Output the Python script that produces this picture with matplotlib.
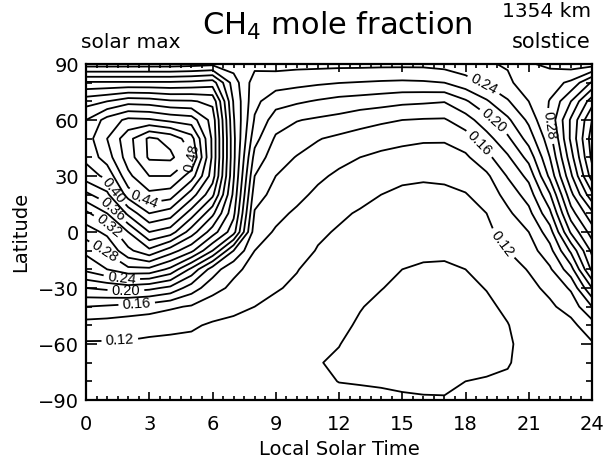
import numpy as np
import matplotlib
matplotlib.use("Agg")
import matplotlib.pyplot as plt
from matplotlib.ticker import MultipleLocator

plt.rcParams['font.family'] = ['DejaVu Sans']
plt.rcParams['mathtext.default'] = 'regular'

# grid: local solar time (h) and latitude (deg)
local_time = np.arange(0, 25, 1)
latitude = np.arange(-90, 91, 10)

# CH4 mole fraction, one column per local time, values from -90 to 90 lat
ch4_t00 = [0.106, 0.110, 0.114, 0.118, 0.131, 0.160, 0.200, 0.245, 0.265, 0.290, 0.315, 0.355, 0.390, 0.405, 0.410, 0.400, 0.372, 0.323, 0.250]
ch4_t01 = [0.107, 0.110, 0.114, 0.118, 0.130, 0.157, 0.205, 0.260, 0.283, 0.305, 0.340, 0.375, 0.405, 0.430, 0.440, 0.428, 0.380, 0.323, 0.250]
ch4_t02 = [0.107, 0.110, 0.114, 0.118, 0.128, 0.153, 0.210, 0.275, 0.315, 0.340, 0.385, 0.430, 0.455, 0.470, 0.473, 0.445, 0.392, 0.323, 0.250]
ch4_t03 = [0.108, 0.111, 0.114, 0.117, 0.125, 0.150, 0.205, 0.275, 0.335, 0.380, 0.420, 0.455, 0.480, 0.503, 0.504, 0.443, 0.390, 0.323, 0.250]
ch4_t04 = [0.108, 0.111, 0.114, 0.116, 0.124, 0.143, 0.195, 0.255, 0.310, 0.370, 0.410, 0.450, 0.480, 0.504, 0.494, 0.435, 0.383, 0.323, 0.250]
ch4_t05 = [0.108, 0.110, 0.113, 0.116, 0.122, 0.138, 0.170, 0.215, 0.285, 0.330, 0.370, 0.410, 0.450, 0.482, 0.468, 0.430, 0.382, 0.325, 0.252]
ch4_t06 = [0.107, 0.109, 0.112, 0.115, 0.118, 0.128, 0.148, 0.170, 0.240, 0.290, 0.325, 0.365, 0.390, 0.396, 0.396, 0.392, 0.375, 0.330, 0.255]
ch4_t07 = [0.107, 0.109, 0.111, 0.114, 0.117, 0.123, 0.135, 0.145, 0.180, 0.248, 0.265, 0.275, 0.282, 0.285, 0.285, 0.282, 0.278, 0.270, 0.250]
ch4_t08 = [0.106, 0.108, 0.110, 0.113, 0.116, 0.120, 0.127, 0.133, 0.140, 0.149, 0.158, 0.169, 0.180, 0.193, 0.207, 0.218, 0.225, 0.230, 0.246]
ch4_t09 = [0.106, 0.107, 0.109, 0.111, 0.114, 0.117, 0.121, 0.126, 0.131, 0.138, 0.145, 0.153, 0.160, 0.168, 0.177, 0.190, 0.208, 0.229, 0.247]
ch4_t10 = [0.105, 0.105, 0.106, 0.108, 0.111, 0.114, 0.118, 0.1205, 0.126, 0.132, 0.137, 0.145, 0.152, 0.159, 0.169, 0.181, 0.203, 0.226, 0.246]
ch4_t11 = [0.104, 0.102, 0.1005, 0.102, 0.105, 0.109, 0.112, 0.116, 0.119, 0.1225, 0.128, 0.136, 0.1435, 0.153, 0.161, 0.177, 0.198, 0.223, 0.246]
ch4_t12 = [0.103, 0.0998, 0.0985, 0.1003, 0.1035, 0.107, 0.110, 0.1135, 0.1165, 0.1185, 0.1225, 0.1295, 0.1365, 0.1455, 0.156, 0.1735, 0.1935, 0.2205, 0.2455]
ch4_t13 = [0.102, 0.0995, 0.097, 0.0965, 0.098, 0.1008, 0.1045, 0.108, 0.1115, 0.115, 0.1185, 0.1245, 0.1315, 0.140, 0.1525, 0.167, 0.191, 0.219, 0.2455]
ch4_t14 = [0.1015, 0.0992, 0.0955, 0.093, 0.0935, 0.0965, 0.1005, 0.1045, 0.1085, 0.112, 0.116, 0.120, 0.1265, 0.136, 0.1475, 0.1635, 0.188, 0.2175, 0.245]
ch4_t15 = [0.1015, 0.098, 0.0945, 0.0915, 0.091, 0.093, 0.0965, 0.100, 0.1045, 0.109, 0.1135, 0.1175, 0.1225, 0.1335, 0.1445, 0.160, 0.1845, 0.2165, 0.245]
ch4_t16 = [0.101, 0.0975, 0.094, 0.091, 0.0903, 0.092, 0.095, 0.0985, 0.1025, 0.1075, 0.1125, 0.117, 0.1215, 0.130, 0.143, 0.1585, 0.183, 0.2175, 0.245]
ch4_t17 = [0.101, 0.097, 0.0935, 0.0905, 0.0898, 0.0915, 0.0945, 0.098, 0.1025, 0.1075, 0.1125, 0.117, 0.1225, 0.131, 0.1425, 0.158, 0.181, 0.220, 0.248]
ch4_t18 = [0.1015, 0.100, 0.0965, 0.0935, 0.0925, 0.094, 0.097, 0.100, 0.105, 0.110, 0.1145, 0.119, 0.1275, 0.1365, 0.151, 0.171, 0.197, 0.232, 0.252]
ch4_t19 = [0.102, 0.1005, 0.0985, 0.0965, 0.096, 0.0975, 0.1005, 0.105, 0.110, 0.1155, 0.120, 0.128, 0.136, 0.154, 0.172, 0.1925, 0.2175, 0.2435, 0.258]
ch4_t20 = [0.1025, 0.101, 0.0995, 0.0985, 0.0995, 0.1025, 0.1065, 0.113, 0.120, 0.128, 0.136, 0.147, 0.1615, 0.177, 0.196, 0.216, 0.238, 0.256, 0.262]
ch4_t21 = [0.103, 0.1025, 0.1025, 0.104, 0.1065, 0.1105, 0.1155, 0.121, 0.1305, 0.140, 0.154, 0.169, 0.186, 0.207, 0.2285, 0.2445, 0.260, 0.271, 0.262]
ch4_t22 = [0.104, 0.104, 0.105, 0.107, 0.111, 0.117, 0.124, 0.137, 0.153, 0.171, 0.195, 0.218, 0.245, 0.260, 0.272, 0.285, 0.281, 0.272, 0.256]
ch4_t23 = [0.105, 0.106, 0.108, 0.111, 0.115, 0.127, 0.143, 0.172, 0.204, 0.243, 0.271, 0.294, 0.316, 0.332, 0.344, 0.343, 0.320, 0.284, 0.250]
ch4_t24 = ch4_t00

columns = [ch4_t00, ch4_t01, ch4_t02, ch4_t03, ch4_t04, ch4_t05, ch4_t06, ch4_t07,
           ch4_t08, ch4_t09, ch4_t10, ch4_t11, ch4_t12, ch4_t13, ch4_t14, ch4_t15,
           ch4_t16, ch4_t17, ch4_t18, ch4_t19, ch4_t20, ch4_t21, ch4_t22, ch4_t23,
           ch4_t24]

plain_levels = [0.10, 0.14, 0.18, 0.22, 0.26, 0.30, 0.34, 0.38, 0.42, 0.46, 0.50]
label_levels = [0.12, 0.16, 0.20, 0.24, 0.28, 0.32, 0.36, 0.40, 0.44, 0.48]
label_positions = [(1.6, -56), (2.4, -37.5), (1.9, -30.5), (1.7, -24.6), (1.0, -8.6),
                   (1.3, 6), (1.4, 13.4), (1.5, 23.6), (2.6, 14.5), (5.2, 38.6),
                   (18.9, 79.8), (19.4, 60), (18.7, 47.7), (22.1, 57.3), (20.0, -4.3)]

Z = np.array(columns).T

fig = plt.figure(figsize=(6.08, 4.58), dpi=100)
ax = fig.add_axes([86 / 608, 1 - 400 / 458, 506 / 608, 336 / 458])

ax.contour(local_time, latitude, Z, levels=plain_levels,
           colors='black', linewidths=1.3)
cs = ax.contour(local_time, latitude, Z, levels=label_levels,
                colors='black', linewidths=1.3)
labels = ax.clabel(cs, manual=label_positions, fmt='%.2f',
                   fontsize=10.5, inline=True, inline_spacing=2)
for t in labels:
    t.set_family(['Liberation Sans', 'DejaVu Sans'])

ax.set_xlim(0, 24)
ax.set_ylim(-90, 90)
ax.set_xticks(np.arange(0, 25, 3))
ax.set_yticks(np.arange(-90, 91, 30))
ax.xaxis.set_minor_locator(MultipleLocator(0.5))
ax.yaxis.set_minor_locator(MultipleLocator(10))
ax.tick_params(axis='both', which='both', direction='in', top=True, right=True,
               labelsize=14, width=1.2)
ax.tick_params(axis='x', which='major', length=6, pad=11)
ax.tick_params(axis='x', which='minor', length=3)
ax.tick_params(axis='y', which='major', length=8, pad=5)
ax.tick_params(axis='y', which='minor', length=4)
for sp in ax.spines.values():
    sp.set_linewidth(1.6)

ax.set_xlabel('Local Solar Time', fontsize=14, labelpad=4)
ax.set_ylabel('Latitude', fontsize=14, labelpad=6)

fig.text(0.555, 0.924, r'CH$_4$ mole fraction', ha='center', va='baseline', fontsize=22)
fig.text(81 / 608, 0.895, 'solar max', ha='left', va='baseline', fontsize=14.5)
fig.text(591 / 608, 0.895, 'solstice', ha='right', va='baseline', fontsize=15)
fig.text(591 / 608, 0.963, '1354 km', ha='right', va='baseline', fontsize=14.5)

fig.savefig('out.png', dpi=100)
